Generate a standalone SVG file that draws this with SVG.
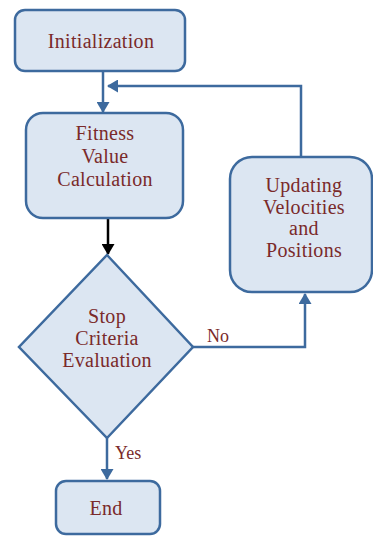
<svg xmlns="http://www.w3.org/2000/svg" width="373" height="536" viewBox="0 0 373 536">
<style>
.box{fill:#dce6f2;stroke:#3d6a9e;stroke-width:2.5}
.t{font-family:"Liberation Serif","Times New Roman",serif;font-size:20px;letter-spacing:0.3px;fill:#7a2a2a;text-anchor:middle}
.lab{font-family:"Liberation Serif","Times New Roman",serif;font-size:18px;fill:#7a2a2a}
.c{fill:none;stroke:#3d6a9e;stroke-width:2.5}
.k{fill:none;stroke:#000;stroke-width:2.5}
</style>
<defs>
<marker id="ab" markerUnits="userSpaceOnUse" viewBox="0 0 11 13" markerWidth="11" markerHeight="13" refX="10" refY="6.5" orient="auto"><path d="M0,0 L11,6.5 L0,13 z" fill="#3d6a9e"/></marker>
<marker id="ak" markerUnits="userSpaceOnUse" viewBox="0 0 11 13" markerWidth="11" markerHeight="13" refX="10" refY="6.5" orient="auto"><path d="M0,0 L11,6.5 L0,13 z" fill="#000"/></marker>
</defs>
<g id="connectors">
<path class="c" d="M103,71 V112" marker-end="url(#ab)"/>
<path class="c" d="M301,157 V86 H108" marker-end="url(#ab)"/>
<path class="k" d="M108,218 V254" marker-end="url(#ak)"/>
<path class="c" d="M193,347 H305 V294" marker-end="url(#ab)"/>
<path class="c" d="M107,438 V479" marker-end="url(#ab)"/>
<text class="lab" x="207" y="342">No</text>
<text class="lab" x="115" y="459">Yes</text>
</g>
<g id="init">
<rect class="box" x="15" y="10" width="170" height="61" rx="10"/>
<text class="t" x="101" y="48">Initialization</text>
</g>
<g id="fitness">
<rect class="box" x="26" y="113" width="157" height="105" rx="17"/>
<text class="t" x="105" y="140">Fitness</text>
<text class="t" x="105" y="163">Value</text>
<text class="t" x="105" y="186">Calculation</text>
</g>
<g id="stop">
<path class="box" d="M107,255 L193,347 L107,438 L19,347 Z"/>
<text class="t" x="107" y="323">Stop</text>
<text class="t" x="107" y="345">Criteria</text>
<text class="t" x="107" y="367">Evaluation</text>
</g>
<g id="update">
<rect class="box" x="230" y="157" width="142" height="135" rx="22"/>
<text class="t" x="304" y="192">Updating</text>
<text class="t" x="304" y="214">Velocities</text>
<text class="t" x="304" y="235">and</text>
<text class="t" x="304" y="257">Positions</text>
</g>
<g id="end">
<rect class="box" x="56" y="481" width="104" height="53" rx="10"/>
<text class="t" x="106" y="515">End</text>
</g>
</svg>
